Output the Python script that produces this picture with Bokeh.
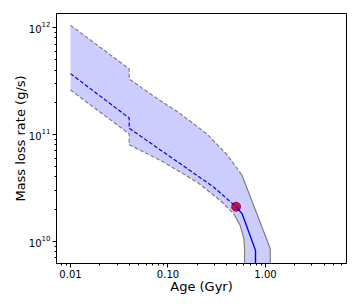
from bokeh.plotting import figure
from bokeh.models import Range1d, PrintfTickFormatter, LogTicker
from bokeh.embed import file_html
from bokeh.resources import INLINE

# ---- data ----
upper_age = [0.01, 0.04, 0.04, 0.07, 0.134, 0.25, 0.4, 0.57]
upper_rate = [1.05e12, 4.1e11, 3.3e11, 2.3e11, 1.56e11, 1.01e11, 6.5e10, 4.2e10]
upper_solid_age = [0.57, 0.79, 1.12, 1.12]
upper_solid_rate = [4.2e10, 1.95e10, 8.5e9, 5e9]

mid_age = [0.01, 0.04, 0.04, 0.134, 0.295, 0.5]
mid_rate = [3.7e11, 1.42e11, 1.14e11, 5.3e10, 3.2e10, 2.1e10]
mid_solid_age = [0.5, 0.577, 0.79, 0.79]
mid_solid_rate = [2.1e10, 1.8e10, 8.2e9, 5e9]

low_age = [0.01, 0.04, 0.04, 0.09, 0.2, 0.345, 0.473]
low_rate = [2.6e11, 1.01e11, 8.0e10, 5.5e10, 3.56e10, 2.4e10, 1.8e10]
low_solid_age = [0.473, 0.55, 0.6, 0.61, 0.61]
low_solid_rate = [1.8e10, 1.4e10, 1.05e10, 8.5e9, 5e9]

now_age = [0.5]
now_rate = [2.1e10]

# ---- figure ----
p = figure(width=360, height=308, x_axis_type="log", y_axis_type="log",
           x_range=Range1d(10 ** -2.1436, 10 ** 0.831),
           y_range=Range1d(10 ** 9.791, 10 ** 12.131),
           output_backend="svg", toolbar_location=None,
           min_border_left=56, min_border_top=13, min_border_right=14,
           min_border_bottom=45,
           x_axis_label="Age (Gyr)", y_axis_label="Mass loss rate (g/s)")
p.background_fill_color = "white"
p.border_fill_color = "white"
p.outline_line_color = "black"
p.outline_line_width = 1
p.xgrid.visible = False
p.ygrid.visible = False

# band
full_up_x = upper_age + upper_solid_age[1:]
full_up_y = upper_rate + upper_solid_rate[1:]
full_lo_x = low_age + low_solid_age[1:]
full_lo_y = low_rate + low_solid_rate[1:]
p.patch(full_up_x + full_lo_x[::-1], full_up_y + full_lo_y[::-1],
        fill_color="blue", fill_alpha=0.2, line_color=None)

gray = "#808080"
p.line(upper_age, upper_rate, line_color=gray, line_width=1.2, line_dash="4 2")
p.line(upper_solid_age, upper_solid_rate, line_color=gray, line_width=1.2)
p.line(low_age, low_rate, line_color=gray, line_width=1.2, line_dash="4 2")
p.line(low_solid_age, low_solid_rate, line_color=gray, line_width=1.2)

p.scatter(now_age, now_rate, size=9, fill_color="#c8103c", line_color="#b0103c")
p.line(mid_age, mid_rate, line_color="blue", line_width=1.2, line_dash="4 2")
p.line(mid_solid_age, mid_solid_rate, line_color="blue", line_width=1.4)

# axes styling
p.xaxis.ticker = LogTicker(desired_num_ticks=3, num_minor_ticks=10)
p.xaxis.formatter = PrintfTickFormatter(format="%.2f")
for ax in (p.xaxis[0], p.yaxis[0]):
    ax.axis_line_color = "black"
    ax.major_tick_line_color = "black"
    ax.minor_tick_line_color = "black"
    ax.major_tick_in = 0
    ax.major_tick_out = 4
    ax.minor_tick_in = 0
    ax.minor_tick_out = 2
    ax.major_label_text_font = "DejaVu Sans"
    ax.major_label_text_font_size = "10px"
    ax.major_label_text_color = "black"
    ax.axis_label_text_font = "DejaVu Sans"
    ax.axis_label_text_font_size = "13px"
    ax.axis_label_text_font_style = "normal"
    ax.axis_label_text_color = "black"
p.xaxis.major_label_standoff = 2
p.xaxis.axis_label_standoff = -2
p.yaxis.major_label_standoff = 2
p.yaxis.axis_label_standoff = -2

open("out.html", "w").write(file_html(p, INLINE))
